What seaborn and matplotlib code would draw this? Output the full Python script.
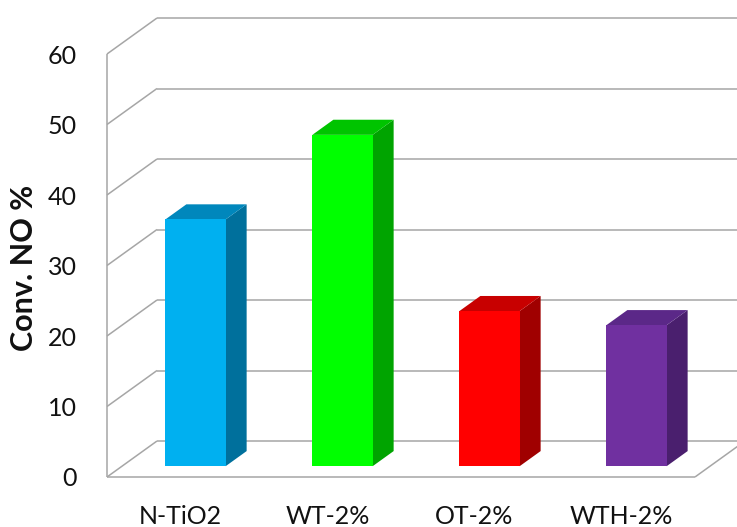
import matplotlib
matplotlib.use("Agg")
import matplotlib.pyplot as plt
import seaborn as sns
import pandas as pd
from matplotlib.patches import Polygon

# Data
categories = ["N-TiO2", "WT-2%", "OT-2%", "WTH-2%"]
conversion = [35, 47, 22, 20]
y_ticks = [0, 10, 20, 30, 40, 50, 60]

# Face shades of each 3-D column: front, right side, top
front_colors = ["#00B0F0", "#00FF00", "#FF0000", "#7030A0"]
side_colors = ["#00709C", "#00A400", "#A00000", "#4A1F6E"]
top_colors = ["#0087BC", "#00C400", "#C80000", "#5B2888"]

sns.set_style("white")
plt.rcParams["font.family"] = ["Lato", "DejaVu Sans"]

W, H = 737, 527
fig = plt.figure(figsize=(W / 100, H / 100), dpi=100)
# front plane of the chart box (pixels): x 107..695, y 477..54
ax = fig.add_axes([107 / W, 50 / H, 588 / W, 423 / H])

df = pd.DataFrame({"sample": categories, "conv": conversion})
sns.barplot(data=df, x="sample", y="conv", hue="sample",
            palette=front_colors, saturation=1, width=0.41,
            legend=False, ax=ax, zorder=4)

ax.set_xlim(-0.5, 3.5)
ax.set_ylim(0, 60)

# oblique projection: one full depth unit, expressed in data units
DX = 50 / 147.0
DY = 36 / 7.05

wall = dict(color="#A6A6A6", lw=1.1, clip_on=False, zorder=1,
            solid_capstyle="butt")
for v in y_ticks:
    ax.plot([-0.5, -0.5 + DX], [v, v + DY], **wall)        # side wall
    ax.plot([-0.5 + DX, 4.5], [v + DY, v + DY], **wall)    # back wall
ax.plot([-0.5, -0.5], [0, 60], **wall)
ax.plot([-0.5, 3.5], [0, 0], **wall)
ax.plot([3.5, 3.5 + DX], [0, DY], **wall)

# columns sit between these depths
d0, d1 = 0.30, 0.72
bars = sorted(ax.patches, key=lambda p: p.get_x())
for p, sc, tc in zip(bars, side_colors, top_colors):
    x0, w, h = p.get_x(), p.get_width(), p.get_height()
    xl = x0 + d0 * DX
    xr = xl + w
    yb = d0 * DY
    p.set_x(xl)
    p.set_y(yb)
    p.set_linewidth(0)
    ddx, ddy = (d1 - d0) * DX, (d1 - d0) * DY
    side = Polygon([(xr, yb), (xr, yb + h), (xr + ddx, yb + h + ddy),
                    (xr + ddx, yb + ddy)], closed=True, facecolor=sc,
                   edgecolor="none", zorder=3, clip_on=False)
    top = Polygon([(xl, yb + h), (xr, yb + h), (xr + ddx, yb + h + ddy),
                   (xl + ddx, yb + h + ddy)], closed=True, facecolor=tc,
                  edgecolor="none", zorder=3, clip_on=False)
    ax.add_patch(side)
    ax.add_patch(top)

ax.set_yticks(y_ticks)
ax.tick_params(axis="y", length=0, pad=21.5, labelsize=18, labelcolor="#111111")
ax.tick_params(axis="x", length=0, pad=20, labelsize=18, labelcolor="#111111")
ax.set_xlabel("")
ax.set_ylabel("Conv. NO %", fontsize=22, fontweight="bold", color="#111111")
ax.yaxis.set_label_coords((24.5 - 107) / 588, (477 - 268) / 423)
ax.yaxis.label.set_va("center")
for s in ax.spines.values():
    s.set_visible(False)
ax.grid(False)

fig.savefig("out.png", dpi=100)
